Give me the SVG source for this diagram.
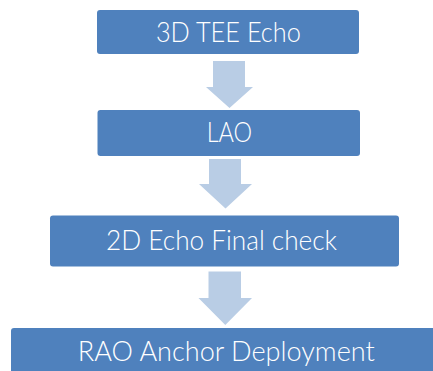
<svg xmlns="http://www.w3.org/2000/svg" width="433" height="371" viewBox="0 0 433 371">
<style>
.box{fill:#4F81BD;}
.arr{fill:#B9CDE5;}
.lbl{font-family:Lato,"Open Sans","Liberation Sans",sans-serif;font-size:26.5px;font-weight:300;fill:#FFFFFF;text-anchor:middle;}
</style>
<rect width="433" height="371" fill="#FFFFFF"/>
<g id="connectors">
<polygon class="arr" points="213,61 245,61 245,87 253,87 229.5,108 206,87 213,87"/>
<polygon class="arr" points="209,159 241,159 241,184 252,184 225.5,208.5 199,184 209,184"/>
<polygon class="arr" points="208.5,271.5 241,271.5 241,298 252,298 225.3,325 198.5,298 208.5,298"/>
</g>
<g id="node1">
<rect class="box" x="97" y="10" width="262" height="44" rx="3"/>
<text class="lbl" x="228.4" y="41.6" textLength="145" lengthAdjust="spacingAndGlyphs">3D TEE Echo</text>
</g>
<g id="node2">
<rect class="box" x="97.5" y="110" width="262.5" height="46" rx="3"/>
<text class="lbl" x="229.4" y="142" textLength="45.5" lengthAdjust="spacingAndGlyphs">LAO</text>
</g>
<g id="node3">
<rect class="box" x="50" y="215.5" width="349" height="51" rx="3"/>
<text class="lbl" x="221.6" y="250" textLength="231" lengthAdjust="spacingAndGlyphs">2D Echo Final check</text>
</g>
<g id="node4">
<rect class="box" x="11" y="328" width="440" height="60" rx="3"/>
<text class="lbl" x="226.3" y="360.7" textLength="297" lengthAdjust="spacingAndGlyphs">RAO Anchor Deployment</text>
</g>
</svg>
